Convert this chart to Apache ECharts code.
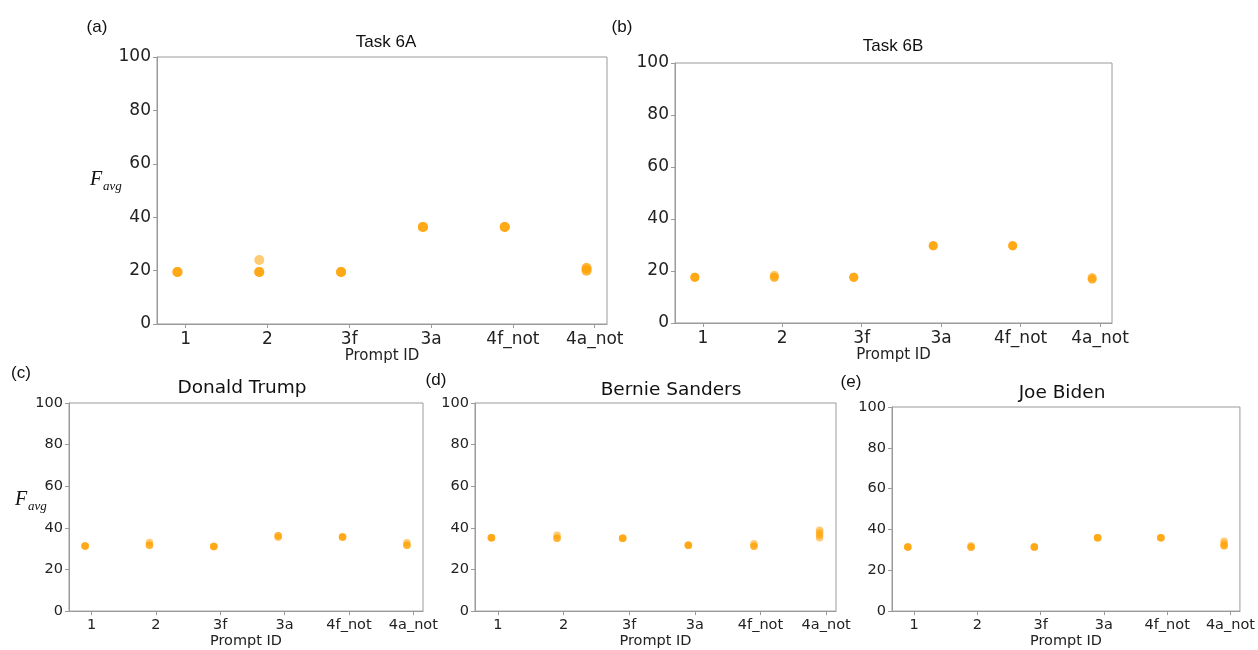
<!DOCTYPE html>
<html>
<head>
<meta charset="utf-8">
<script src="https://cdn.jsdelivr.net/npm/echarts@6/dist/echarts.min.js"></script>
<style>html,body{margin:0;padding:0;background:#fff;}#c{width:1258px;height:650px;}</style>
</head>
<body>
<div id="c"></div>
<script>
// Categories (Prompt IDs)
const categories = ['1', '2', '3f', '3a', '4f_not', '4a_not'];
const yTicks = [0, 20, 40, 60, 80, 100];

// F_avg values per prompt (several runs each)
const task6A  = [[19.5,19.5,19.5],[19.5,19.5,19.5,24.0],[19.5,19.5,19.5],[36.3,36.3,36.3],[36.3,36.3,36.3],[20.0,20.0,21.0,21.0]];
const task6B  = [[17.6,17.6,17.6],[17.6,17.6,18.4],[17.6,17.6,17.6],[29.7,29.7,29.7],[29.7,29.7,29.7],[16.9,16.9,17.5]];
const trump   = [[31.3,31.3,31.3],[31.6,31.6,33.0],[31.1,31.1,31.1],[35.5,36.2,36.2],[35.6,35.6,35.6],[31.6,31.6,32.8]];
const sanders = [[35.2,35.2,35.2],[35.0,35.0,36.5],[35.0,35.0,35.0],[31.6,31.6,31.6],[31.2,31.2,32.4],[35.3,36.5,37.7,38.9]];
const biden   = [[31.4,31.4,31.4],[31.3,31.3,32.0],[31.4,31.4,31.4],[35.9,35.9,35.9],[35.9,35.9,35.9],[32.0,32.0,33.0,34.2]];

const titles = ['Task 6A', 'Task 6B', 'Donald Trump', 'Bernie Sanders', 'Joe Biden'];
const panelLetters = ['(a)', '(b)', '(c)', '(d)', '(e)'];
const panelData = [task6A, task6B, trump, sanders, biden];

// layout (styling, not data)
const panels = [
  {grid:{left:157, top:57, width:450, height:267}, fs:17, nameFs:15, nameGap:22, sym:10, title:{x:386, y:42, fs:17, ff:'Liberation Sans'}, letter:{x:97, y:27}},
  {grid:{left:675, top:63, width:437, height:260}, fs:17, nameFs:15, nameGap:22, sym:9, title:{x:893, y:46, fs:17, ff:'Liberation Sans'}, letter:{x:622, y:27}},
  {grid:{left:69, top:403, width:354, height:210}, fs:14.5, nameFs:14.5, nameGap:18, sym:7.5, title:{x:242, y:388, fs:18.5, ff:'DejaVu Sans'}, letter:{x:21, y:373}},
  {grid:{left:475, top:403, width:361, height:214}, fs:14.5, nameFs:14.5, nameGap:19, sym:7.5, title:{x:671, y:390, fs:18.5, ff:'DejaVu Sans'}, letter:{x:436, y:380}},
  {grid:{left:892, top:407, width:349, height:209}, fs:14.5, nameFs:14.5, nameGap:18, sym:7.5, title:{x:1062, y:393, fs:18.5, ff:'DejaVu Sans'}, letter:{x:851, y:382}}
];
const xOffset = -0.1; // markers drawn slightly left of each tick
const spine = '#9a9a9a', txt = '#222';
const tickVals = categories.map((c, i) => i);

const grid = [], xAxis = [], yAxis = [], series = [], graphic = [];
panels.forEach((p, k) => {
  grid.push(Object.assign({show:true, borderColor:spine, borderWidth:1, backgroundColor:'#fff'}, p.grid));
  xAxis.push({
    gridIndex:k, type:'value', min:-0.35, max:5.15,
    axisLine:{show:true, onZero:false, lineStyle:{color:spine, width:1}},
    axisTick:{show:true, customValues:tickVals, length:4, lineStyle:{color:spine}},
    axisLabel:{show:true, customValues:tickVals, formatter:(v)=>categories[Math.round(v)], fontSize:p.fs, color:txt, fontFamily:'DejaVu Sans', margin:7},
    splitLine:{show:false},
    name:'Prompt ID', nameLocation:'middle', nameGap:p.nameGap,
    nameTextStyle:{fontSize:p.nameFs, color:txt, fontFamily:'DejaVu Sans'}
  });
  yAxis.push({
    gridIndex:k, type:'value', min:0, max:100, interval:20,
    axisLine:{show:true, onZero:false, lineStyle:{color:spine, width:1}},
    axisTick:{show:true, length:4, lineStyle:{color:spine}},
    axisLabel:{fontSize:p.fs, color:txt, fontFamily:'DejaVu Sans', margin:6},
    splitLine:{show:false}
  });
  const pts = [];
  panelData[k].forEach((vals, i) => vals.forEach(v => pts.push([i + xOffset, v])));
  series.push({
    type:'scatter', xAxisIndex:k, yAxisIndex:k, data:pts, symbolSize:p.sym,
    itemStyle:{color:'#FFA000', opacity:0.55}, silent:true, animation:false
  });
  graphic.push({type:'text', x:p.title.x, y:p.title.y, style:{text:titles[k], fontSize:p.title.fs, fontFamily:p.title.ff, fill:'#111', align:'center', verticalAlign:'middle'}});
  graphic.push({type:'text', x:p.letter.x, y:p.letter.y, style:{text:panelLetters[k], fontSize:17, fontFamily:'Liberation Sans', fill:'#111', align:'center', verticalAlign:'middle'}});
});

// F_avg y-labels (a) and (c)
[{x:90, y:180, fs:20, sfs:13}, {x:15, y:500, fs:20, sfs:13}].forEach(f => {
  graphic.push({type:'text', x:f.x, y:f.y, style:{text:'F', fontSize:f.fs, fontStyle:'italic', fontFamily:'Liberation Serif', fill:'#111', align:'left', verticalAlign:'middle'}});
  graphic.push({type:'text', x:f.x + 13, y:f.y + 7, style:{text:'avg', fontSize:f.sfs, fontStyle:'italic', fontFamily:'Liberation Serif', fill:'#111', align:'left', verticalAlign:'middle'}});
});

const chart = echarts.init(document.getElementById('c'), null, {renderer:'canvas'});
chart.setOption({animation:false, backgroundColor:'#fff', grid, xAxis, yAxis, series, graphic});
</script>
</body>
</html>
